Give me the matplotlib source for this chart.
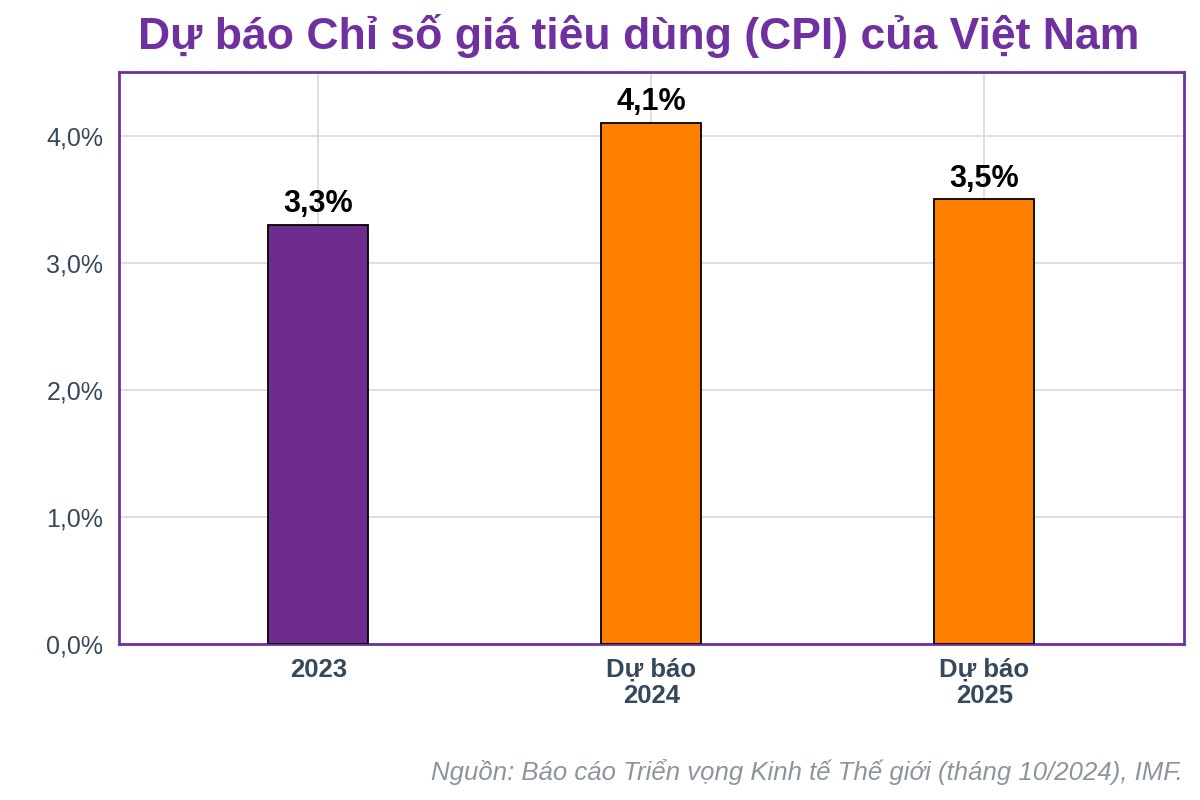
import matplotlib
matplotlib.use("Agg")
import matplotlib.pyplot as plt
from matplotlib.ticker import FuncFormatter

plt.rcParams['font.family'] = ['Liberation Sans', 'DejaVu Sans']

categories = ["2023", "Dự báo\n2024", "Dự báo\n2025"]
cpi = [3.3, 4.1, 3.5]
bar_colors = ["#6F2C8F", "#FF7F00", "#FF7F00"]
yticks = [0, 1, 2, 3, 4]

purple = "#7030A0"
tick_color = "#34495E"

fig = plt.figure(figsize=(12, 8), dpi=100)
ax = fig.add_axes([0.0988, 0.195, 0.888, 0.715])

x = range(len(categories))
bars = ax.bar(x, cpi, width=0.3, color=bar_colors, edgecolor="black",
              linewidth=1.3, zorder=3)

for b, v in zip(bars, cpi):
    ax.annotate(f"{v:.1f}%".replace(".", ","),
                (b.get_x() + b.get_width() / 2, v),
                xytext=(0, 4), textcoords="offset points",
                ha="center", va="bottom", fontsize=22, fontweight="bold",
                color="black")

ax.set_xlim(-0.6, 2.6)
ax.set_ylim(0, 4.5)
ax.set_yticks(yticks)
ax.yaxis.set_major_formatter(
    FuncFormatter(lambda v, p: f"{v:.1f}%".replace(".", ",")))
ax.set_xticks(list(x))
ax.set_xticklabels(categories, fontweight="bold", linespacing=1.12)

ax.tick_params(axis="y", length=0, pad=11, labelsize=18, labelcolor=tick_color)
ax.tick_params(axis="x", length=0, pad=10, labelsize=18.5, labelcolor=tick_color)

ax.grid(True, color="#D9D9D9", linewidth=1.2, zorder=0)
ax.set_axisbelow(True)
for s in ax.spines.values():
    s.set_color(purple)
    s.set_linewidth(2)

fig.suptitle("Dự báo Chỉ số giá tiêu dùng (CPI) của Việt Nam",
             x=0.5325, y=0.982, fontsize=32, fontweight="bold", color=purple,
             va="top")

fig.text(0.986, 0.035,
         "Nguồn: Báo cáo Triển vọng Kinh tế Thế giới (tháng 10/2024), IMF.",
         ha="right", va="center", fontsize=18.5, style="italic",
         color="#8C959D")

fig.savefig("out.png", dpi=100)
